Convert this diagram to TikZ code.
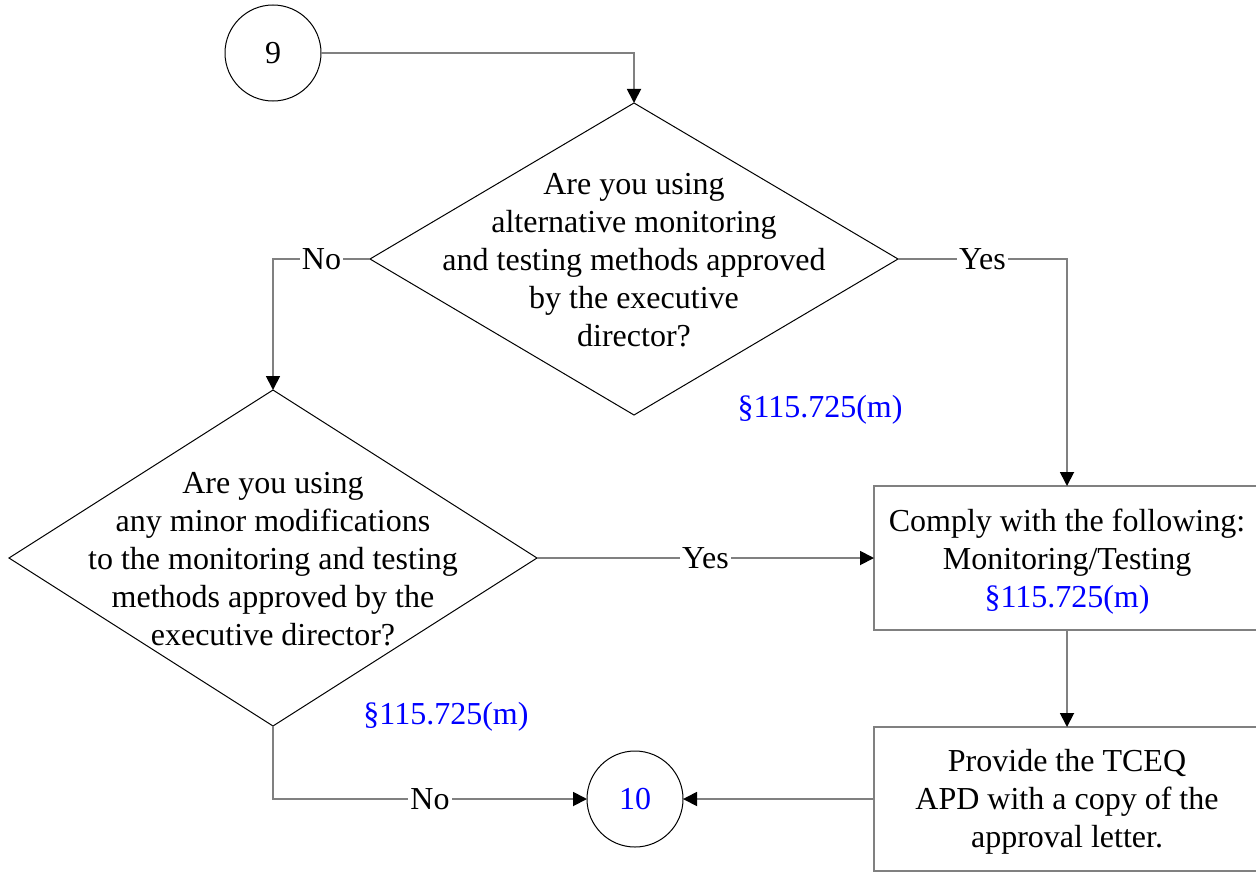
\documentclass[tikz,border=0pt]{standalone}
\usepackage{fontspec}
\setmainfont{Liberation Serif}
\usetikzlibrary{shapes.geometric,arrows.meta}
\definecolor{linegray}{RGB}{128,128,128}
\definecolor{refblue}{RGB}{0,0,255}
\tikzset{
  conn/.style={draw=linegray, line width=0.9pt, -{Triangle[length=7pt,width=7pt,black]}},
  dec/.style={diamond, draw=black, line width=0.5pt, inner sep=0pt, outer sep=0pt},
  conncirc/.style={circle, draw=black, line width=0.5pt, minimum size=48pt, inner sep=0pt, outer sep=0pt},
  procbox/.style={rectangle, draw=linegray, line width=0.9pt, minimum width=193pt, minimum height=72pt, inner sep=0pt, outer sep=0pt},
  txt/.style={align=center, inner sep=0pt},
  lbl/.style={fill=white, inner sep=1pt},
  ref/.style={text=refblue, inner sep=0pt},
}
\begin{document}
\begin{tikzpicture}[x=0.5pt, y=-0.5pt, font=\fontsize{16}{19}\selectfont]
\useasboundingbox (0,0) rectangle (1256,872);
\clip (0,0) rectangle (1256,872);
% nodes
\node[conncirc] (c9) at (273,53) {9};
\node[dec, minimum width=264pt, minimum height=156pt] (d1) at (634,259) {};
\node[txt] (t1) at (634,260) {Are you using\\alternative monitoring\\and testing methods approved\\by the executive\\director?};
\node[ref] (r1) at (820,410) {§115.725(m)};
\node[dec, minimum width=264pt, minimum height=168pt] (d2) at (273,558) {};
\node[txt] (t2) at (273,559) {Are you using\\any minor modifications\\to the monitoring and testing\\methods approved by the\\executive director?};
\node[ref] (r2) at (446,717) {§115.725(m)};
\node[procbox] (b1) at (1067,558) {};
\node[txt] (bt1) at (1067,562) {Comply with the following:\\Monitoring/Testing\\\textcolor{refblue}{§115.725(m)}};
\node[procbox] (b2) at (1067,799) {};
\node[txt] (bt2) at (1067,802) {Provide the TCEQ\\APD with a copy of the\\approval letter.};
\node[conncirc, text=refblue] (c10) at (635,799) {10};
% connectors
\draw[conn] (c9.east) -| (d1.north);
\draw[conn] (d1.west) -| node[lbl, pos=0.25] {No} (d2.north);
\draw[conn] (d1.east) -| node[lbl, pos=0.25] {Yes} (b1.north);
\draw[conn] (d2.east) -- node[lbl] {Yes} (b1.west);
\draw[conn] (d2.south) |- node[lbl, pos=0.75] {No} (c10.west);
\draw[conn] (b1.south) -- (b2.north);
\draw[conn] (b2.west) -- (c10.east);
\end{tikzpicture}
\end{document}
